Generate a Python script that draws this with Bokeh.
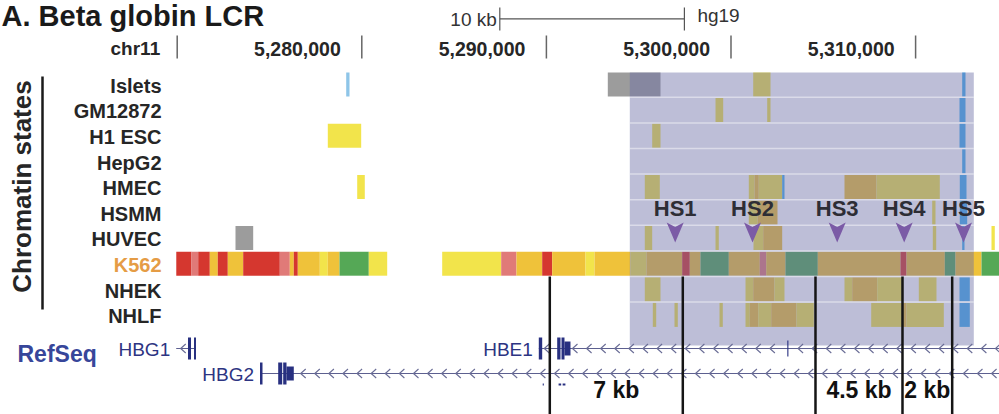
import numpy as np
from bokeh.plotting import figure
from bokeh.models import Range1d
from bokeh.core.properties import value
from bokeh.embed import file_html
from bokeh.resources import INLINE

FONT = value("Liberation Sans")

# ---------------- data ----------------
title_text = "A. Beta globin LCR"
chrom_name = "chr11"
assembly = "hg19"
scale_bar_bp = 10000
scale_bar_label = "10 kb"
ruler_ticks = [5270000, 5280000, 5290000, 5300000, 5310000]
ruler_labels = ["", "5,280,000", "5,290,000", "5,300,000", "5,310,000"]

track_group_label = "Chromatin states"
cell_lines = ["Islets", "GM12872", "H1 ESC", "HepG2", "HMEC", "HSMM", "HUVEC",
              "K562", "NHEK", "NHLF"]
highlight_cell = "K562"

state_colors = {
    "red": "#d5372f", "pink": "#e07a78", "orange": "#efc23a", "yellow": "#f2e44b",
    "green": "#55a856", "grey": "#9c9c9c", "lblue": "#8ec5e8", "blue": "#46b0f0",
}

islets = [(5279155, 5279334, "lblue"), (5293326, 5296181, "grey"),
          (5301203, 5302140, "yellow"), (5312524, 5312703, "blue")]
gm12872 = [(5299161, 5299577, "yellow"), (5301961, 5302140, "yellow"),
           (5312378, 5312703, "blue")]
h1_esc = [(5278158, 5279967, "yellow"), (5295731, 5296181, "yellow"),
          (5312378, 5312703, "blue")]
hepg2 = [(5312524, 5312703, "blue")]
hmec = [(5279751, 5280162, "yellow"), (5295330, 5296143, "yellow"),
        (5300964, 5301273, "yellow"), (5301273, 5301506, "orange"),
        (5301506, 5302773, "yellow"), (5302773, 5302898, "blue"),
        (5306148, 5307882, "orange"), (5307882, 5311311, "yellow"),
        (5312394, 5312757, "blue")]
hsmm = [(5300964, 5301436, "yellow"), (5301436, 5302519, "orange"),
        (5310899, 5311078, "yellow"), (5312394, 5312795, "blue")]
huvec = [(5273158, 5274117, "grey"), (5295330, 5295731, "yellow"),
         (5299161, 5299339, "yellow"), (5301219, 5301744, "yellow"),
         (5301744, 5302773, "orange"), (5310932, 5311116, "yellow"),
         (5312524, 5312649, "blue"), (5314111, 5314290, "yellow")]
k562 = [(5269950, 5270775, "red"), (5270775, 5271138, "pink"), (5271138, 5271766, "red"),
        (5271766, 5272199, "orange"), (5272199, 5272741, "red"), (5272741, 5273575, "orange"),
        (5273575, 5275558, "red"), (5275558, 5276100, "pink"), (5276100, 5276316, "orange"),
        (5276316, 5276533, "red"), (5276533, 5277725, "orange"), (5277725, 5278158, "yellow"),
        (5278158, 5278792, "orange"), (5278792, 5280379, "green"), (5280379, 5281376, "yellow"),
        (5284355, 5287551, "yellow"), (5287551, 5288380, "pink"), (5288380, 5289772, "orange"),
        (5289772, 5290314, "red"), (5290314, 5292118, "orange"), (5292118, 5292606, "yellow"),
        (5292606, 5294556, "orange"), (5294556, 5295422, "yellow"), (5295422, 5297356, "orange"),
        (5297356, 5297768, "red"), (5297768, 5298348, "orange"), (5298348, 5299881, "green"),
        (5299881, 5301560, "orange"), (5301560, 5301907, "pink"), (5301907, 5302952, "orange"),
        (5302952, 5304702, "green"), (5304702, 5309182, "orange"), (5309182, 5309507, "red"),
        (5309507, 5311582, "orange"), (5311582, 5312161, "green"), (5312161, 5313570, "orange"),
        (5313570, 5314545, "green")]
nhek = [(5295330, 5296181, "yellow"), (5300786, 5301203, "yellow"),
        (5301203, 5302356, "orange"), (5302356, 5302898, "yellow"),
        (5306148, 5306565, "yellow"), (5306565, 5307920, "orange"),
        (5307920, 5309274, "yellow"), (5310173, 5311132, "yellow"),
        (5312378, 5312936, "blue")]
nhlf = [(5295764, 5295948, "yellow"), (5296939, 5297118, "yellow"),
        (5299377, 5299556, "yellow"), (5300786, 5301018, "yellow"),
        (5301018, 5301473, "orange"), (5301473, 5302178, "yellow"),
        (5302178, 5303548, "orange"), (5303548, 5304485, "yellow"),
        (5307595, 5309274, "yellow"), (5309274, 5309507, "orange"),
        (5309507, 5311528, "yellow"), (5312378, 5312936, "blue")]
tracks = [islets, gm12872, h1_esc, hepg2, hmec, hsmm, huvec, k562, nhek, nhlf]

lcr_start, lcr_end = 5294518, 5313153

hs_names = ["HS1", "HS2", "HS3", "HS4", "HS5"]
hs_pos = [5296977, 5301165, 5305753, 5309382, 5312595]

marker_pos = [5290184, 5297389, 5304577, 5309290, 5311982]
distance_labels = ["7 kb", "4.5 kb", "2 kb"]
distance_pairs = [(0, 1), (2, 3), (3, 4)]

refseq_label = "RefSeq"
gene_names = ["HBG1", "HBG2", "HBE1"]
gene_start = [5269946, 5274485, 5289588]
gene_end = [5271018, 5314545, 5314545]
gene_lane = [0, 1, 0]
gene_blocks = [
    [(5270585, 5270748, "tall"), (5270910, 5271018, "tall")],
    [(5274485, 5274621, "tall"), (5275471, 5275688, "tall"),
     (5275742, 5275921, "tall"), (5275921, 5276316, "mid")],
    [(5289588, 5289772, "tall"), (5290585, 5290764, "tall"),
     (5290818, 5290980, "tall"), (5290980, 5291305, "mid"),
     (5303050, 5303110, "thin")],
]
small_marks = [(5289800, 5289860), (5290660, 5290800), (5290880, 5291030)]

# ---------------- layout / style ----------------
W, H = 999, 414
X0, X1 = 5260428, 5314545
BP = (X1 - X0) / W              # bp per screen pixel
ROW_TOP0, ROW_PITCH, ROW_H = 72.0, 25.6, 24.0
LANE_Y = [348, 373]
BLOCK_H = {"tall": 22, "mid": 14, "thin": 16}
LAV = "#6c6ea6"
GENE_LINE = "#5d6090"
GENE_DARK = "#283080"
TXT = "#262626"

p = figure(width=W, height=H, x_range=Range1d(X0, X1), y_range=Range1d(H, 0),
           output_backend="svg", toolbar_location=None,
           x_axis_location=None, y_axis_location=None, min_border=0,
           outline_line_color=None)
p.extra_x_ranges = {"px": Range1d(0, W)}
p.grid.visible = False
p.background_fill_color = "white"
p.border_fill_color = "white"

# chromatin state segments
L, R, T, B, C = [], [], [], [], []
for i, segs in enumerate(tracks):
    top = ROW_TOP0 + i * ROW_PITCH
    for s, e, st in segs:
        L.append(s); R.append(e); T.append(top); B.append(top + ROW_H)
        C.append(state_colors[st])
p.quad(left=L, right=R, top=T, bottom=B, fill_color=C, line_color=None)

# highlighted LCR region (semi transparent lavender)
p.quad(left=[lcr_start], right=[lcr_end], top=[ROW_TOP0], bottom=[345],
       fill_color=LAV, fill_alpha=0.45, line_color=None)
gap_y = [ROW_TOP0 + i * ROW_PITCH + ROW_H + (ROW_PITCH - ROW_H) / 2 for i in range(len(cell_lines) - 1)]
p.segment(x0=[lcr_start] * len(gap_y), x1=[lcr_end] * len(gap_y), y0=gap_y, y1=gap_y,
          line_color="white", line_alpha=0.45, line_width=1.5)

# row labels
row_cols = ["#e59c45" if c == highlight_cell else TXT for c in cell_lines]
p.text(x=[161] * len(cell_lines),
       y=[ROW_TOP0 + i * ROW_PITCH + 13.3 for i in range(len(cell_lines))],
       text=cell_lines, text_color=row_cols, text_font=FONT, text_font_size="20px",
       text_font_style="bold", text_align="right", text_baseline="middle",
       x_range_name="px")
p.text(x=[21], y=[186], text=[track_group_label], angle=np.pi / 2, text_color=TXT,
       text_font=FONT, text_font_size="26px", text_font_style="bold",
       text_align="center", text_baseline="middle", x_range_name="px")
p.segment(x0=[42], x1=[42], y0=[76], y1=[309], line_color="#1a1a1a", line_width=2.5,
          x_range_name="px")

# title
p.text(x=[1], y=[15.5], text=[title_text], text_color="#1a1a1a", text_font=FONT,
       text_font_size="29px", text_font_style="bold", text_baseline="middle",
       x_range_name="px")

# scale bar
sb0 = X0 + 499.3 * BP
sb1 = sb0 + scale_bar_bp
p.segment(x0=[sb0], x1=[sb1], y0=[18.3], y1=[18.3], line_color="#555555", line_width=1.2)
p.segment(x0=[sb0, sb1], x1=[sb0, sb1], y0=[7, 7], y1=[30, 30], line_color="#555555", line_width=1.2)
p.text(x=[sb0], y=[18.5], text=[scale_bar_label], x_offset=-3, text_color="#333333",
       text_font=FONT, text_font_size="19px", text_align="right", text_baseline="middle")
p.text(x=[sb1], y=[15], text=[assembly], x_offset=13, text_color="#333333",
       text_font=FONT, text_font_size="19px", text_align="left", text_baseline="middle")

# chromosome ruler
p.segment(x0=ruler_ticks, x1=ruler_ticks, y0=[35] * 5, y1=[58] * 5,
          line_color="#666666", line_width=1.5)
p.text(x=ruler_ticks, y=[48] * 5, text=ruler_labels, x_offset=-21, text_color=TXT,
       text_font=FONT, text_font_size="19.5px", text_font_style="bold",
       text_align="right", text_baseline="middle")
p.text(x=[ruler_ticks[0]], y=[47.5], text=[chrom_name], x_offset=-17, text_color=TXT,
       text_font=FONT, text_font_size="19px", text_font_style="bold",
       text_align="right", text_baseline="middle")

# RefSeq genes
p.text(x=[17], y=[353], text=[refseq_label], text_color="#37469a", text_font=FONT,
       text_font_size="23px", text_font_style="bold", text_baseline="middle",
       x_range_name="px")
cx, cy = [], []
bl, br, bt, bb = [], [], [], []
for g, (s, e, lane, blocks) in enumerate(zip(gene_start, gene_end, gene_lane, gene_blocks)):
    y = LANE_Y[lane]
    p.segment(x0=[s], x1=[e], y0=[y], y1=[y], line_color=GENE_LINE, line_width=1.1)
    for b0, b1, kind in blocks:
        h = BLOCK_H[kind]
        bl.append(b0); br.append(b1); bt.append(y - h / 2); bb.append(y + h / 2)
    first = {0: 4.5, 1: 12.5, 2: 5.5}[g]
    for x in np.arange(s + first * BP, min(e, X1 + 10 * BP), 14.1 * BP):
        if any(b0 - 6 * BP < x < b1 + 1 * BP for b0, b1, _ in blocks):
            continue
        cx.append([x + 5 * BP, x, x + 5 * BP]); cy.append([y - 4.5, y, y + 4.5])
    p.text(x=[s], y=[y + 0.5], text=[gene_names[g]], x_offset=-6, text_color="#2d3482",
           text_font=FONT, text_font_size="19px", text_align="right",
           text_baseline="middle")
p.multi_line(xs=cx, ys=cy, line_color="#6a6d96", line_width=1.1)
p.quad(left=bl, right=br, top=bt, bottom=bb, fill_color=GENE_DARK, line_color=None)
p.quad(left=[a for a, _ in small_marks], right=[b for _, b in small_marks],
       top=[383] * len(small_marks), bottom=[385] * len(small_marks),
       fill_color=GENE_DARK, line_color=None)

# HS sites
hw = 8.5 * BP
p.patches(xs=[[c - hw, c, c + hw, c] for c in hs_pos],
          ys=[[222, 226.5, 222, 242] for _ in hs_pos],
          fill_color="#7b5ba6", line_color=None)
p.text(x=hs_pos, y=[208] * len(hs_pos), text=hs_names, text_color="#2d2d35",
       text_font=FONT, text_font_size="22px", text_font_style="bold",
       text_align="center", text_baseline="middle")

# distance markers
p.segment(x0=marker_pos, x1=marker_pos, y0=[276] * len(marker_pos), y1=[H + 2] * len(marker_pos),
          line_color="#151515", line_width=2.5)
p.text(x=[(marker_pos[a] + marker_pos[b]) / 2 for a, b in distance_pairs],
       y=[389.5] * len(distance_pairs), text=distance_labels, text_color="#111111",
       text_font=FONT, text_font_size="23px", text_font_style="bold",
       text_align="center", text_baseline="middle")

open("out.html", "w").write(file_html(p, INLINE))
